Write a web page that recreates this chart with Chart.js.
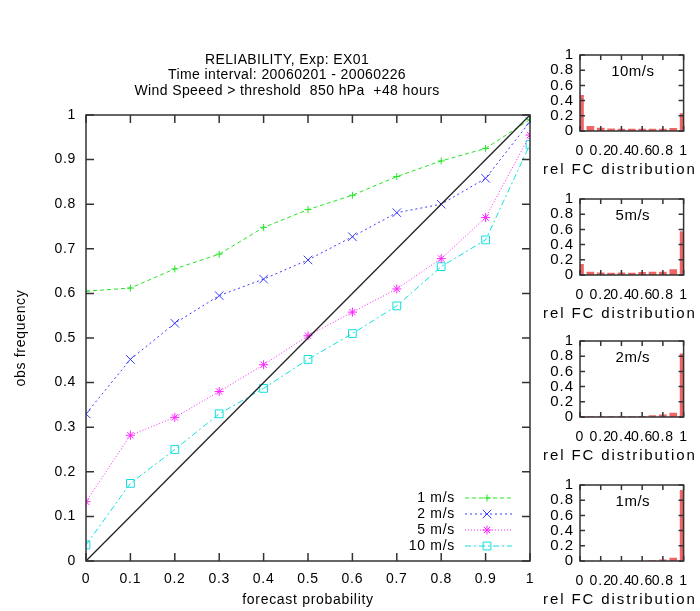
<!DOCTYPE html>
<html>
<head>
<meta charset="utf-8">
<title>Reliability</title>
<script src="https://cdn.jsdelivr.net/npm/chart.js@4.4.0/dist/chart.umd.min.js"></script>
<style>
    body { margin: 0; background: #fff; width: 700px; height: 611px; position: relative; overflow: hidden; }
    canvas { position: absolute; }
</style>
</head>
<body>

<canvas id="mainChart" width="560" height="611" style="left:0;top:0"></canvas>
<canvas id="hist10" width="160" height="140" style="left:540px;top:40px"></canvas>
<canvas id="hist5" width="160" height="140" style="left:540px;top:184px"></canvas>
<canvas id="hist2" width="160" height="140" style="left:540px;top:326px"></canvas>
<canvas id="hist1" width="160" height="140" style="left:540px;top:470px"></canvas>

<script>
// forecast probability bins
const probs = [0, 0.1, 0.2, 0.3, 0.4, 0.5, 0.6, 0.7, 0.8, 0.9, 1];

// observed frequency per threshold
const obs1  = [0.605, 0.612, 0.655, 0.688, 0.748, 0.788, 0.820, 0.862, 0.897, 0.925, 0.990];
const obs2  = [0.330, 0.452, 0.533, 0.595, 0.632, 0.675, 0.727, 0.781, 0.800, 0.858, 0.985];
const obs5  = [0.133, 0.282, 0.322, 0.380, 0.440, 0.505, 0.558, 0.610, 0.678, 0.770, 0.955];
const obs10 = [0.036, 0.174, 0.250, 0.330, 0.387, 0.452, 0.510, 0.572, 0.660, 0.720, 0.934];

// perfect reliability line
const diagX = [0, 1];
const diagY = [0, 1];

// relative forecast distribution per threshold
const rel10 = [0.47, 0.06, 0.04, 0.03, 0.025, 0.025, 0.025, 0.025, 0.025, 0.035, 0.23];
const rel5  = [0.14, 0.04, 0.03, 0.025, 0.03, 0.025, 0.035, 0.04, 0.04, 0.07, 0.57];
const rel2  = [0.01, 0.005, 0.005, 0.005, 0.005, 0.005, 0.01, 0.02, 0.03, 0.05, 0.83];
const rel1  = [0, 0, 0, 0, 0, 0, 0, 0.005, 0.015, 0.04, 0.93];

const seriesLabels = ["1 m/s", "2 m/s", "5 m/s", "10 m/s"];
const histLabels = ["10m/s", "5m/s", "2m/s", "1m/s"];

const mainTicks = [0, 0.1, 0.2, 0.3, 0.4, 0.5, 0.6, 0.7, 0.8, 0.9, 1];
const histTicks = [0, 0.2, 0.4, 0.6, 0.8, 1];

const titleLines = [
    "RELIABILITY, Exp: EX01",
    "Time interval: 20060201 - 20060226",
    "Wind Speeed > threshold  850 hPa  +48 hours"
];

const FONT = '"Liberation Sans", Arial, sans-serif';

Chart.defaults.font.family = FONT;
Chart.defaults.font.size = 14;
Chart.defaults.color = "#000";


// letter spacing, gnuplot text is wide
const spacingPlugin = {
    id: "spacing",
    beforeUpdate(chart, args, opts) {
        chart.ctx.letterSpacing = opts.px + "px";
    },
    beforeDraw(chart, args, opts) {
        chart.ctx.letterSpacing = opts.px + "px";
    }
};

// box round the plot with inward ticks on all sides
const framePlugin = {
    id: "frame",
    afterDraw(chart, args, opts) {

        const { ctx, chartArea: a, scales: { x, y } } = chart;
        const L = opts.tick;

        ctx.save();
        ctx.strokeStyle = "#333";
        ctx.lineWidth = 1.5;
        ctx.setLineDash([]);
        ctx.strokeRect(a.left, a.top, a.width, a.height);

        ctx.beginPath();
        x.ticks.forEach(t => {
            const px = x.getPixelForValue(t.value);
            ctx.moveTo(px, a.bottom);
            ctx.lineTo(px, a.bottom - L);
            ctx.moveTo(px, a.top);
            ctx.lineTo(px, a.top + L);
        });
        y.ticks.forEach(t => {
            const py = y.getPixelForValue(t.value);
            ctx.moveTo(a.left, py);
            ctx.lineTo(a.left + L, py);
            ctx.moveTo(a.right, py);
            ctx.lineTo(a.right - L, py);
        });
        ctx.stroke();
        ctx.restore();
    }
};

// three line title above the main plot
const headPlugin = {
    id: "head",
    afterDraw(chart, args, opts) {

        const ctx = chart.ctx;

        ctx.save();
        ctx.letterSpacing = "0.4px";
        ctx.font = "14px " + FONT;
        ctx.fillStyle = "#000";
        ctx.textAlign = "center";
        ctx.textBaseline = "middle";

        opts.lines.forEach((line, i) => {
            ctx.fillText(line, opts.x, opts.y + i * 15.5);
        });

        ctx.restore();
    }
};

// key in the lower right corner of the main plot
const keyPlugin = {
    id: "key",
    afterDatasetsDraw(chart) {

        const { ctx, chartArea: a } = chart;

        ctx.save();
        ctx.font = "14px " + FONT;
        ctx.textAlign = "right";
        ctx.textBaseline = "middle";

        chart.data.datasets.slice(1).forEach((ds, i) => {

            const ty = a.bottom - 63 + i * 16;
            const tx = a.right - 75;

            ctx.fillStyle = "#000";
            ctx.fillText(ds.label, tx, ty);

            ctx.strokeStyle = ds.borderColor;
            ctx.lineWidth = 1;
            ctx.setLineDash(ds.borderDash);
            ctx.beginPath();
            ctx.moveTo(tx + 10, ty);
            ctx.lineTo(tx + 57, ty);
            ctx.stroke();
            ctx.setLineDash([]);

            ctx.fillStyle = "rgba(0,0,0,0)";
            Chart.helpers.drawPoint(
                ctx,
                { pointStyle: ds.pointStyle, radius: ds.pointRadius, borderWidth: 1, rotation: 0 },
                tx + 32,
                ty
            );
        });

        ctx.restore();
    }
};

// label inside and axis title under each small histogram
const histTextPlugin = {
    id: "histText",
    afterDraw(chart, args, opts) {

        const { ctx, chartArea: a } = chart;

        ctx.save();
        ctx.font = "15px " + FONT;
        ctx.fillStyle = "#000";
        ctx.textBaseline = "middle";

        ctx.letterSpacing = "0.5px";
        ctx.textAlign = "center";
        ctx.fillText(opts.label, (a.left + a.right) / 2 + 1, a.top + 17);

        ctx.letterSpacing = "1.9px";
        ctx.textAlign = "left";
        ctx.fillText("rel FC distribution", a.left - 37, a.bottom + 39);

        ctx.restore();
    }
};


function tickText(value) {
    return String(Math.round(value * 10) / 10);
}

function toPoints(xs, ys) {
    return xs.map((x, i) => ({ x: x, y: ys[i] }));
}

function lineSet(label, ys, color, dash, style, radius) {
    return {
        label: label,
        data: toPoints(probs, ys),
        borderColor: color,
        borderWidth: 1,
        borderDash: dash,
        backgroundColor: "rgba(0,0,0,0)",
        pointStyle: style,
        pointRadius: radius,
        pointBorderColor: color,
        pointBackgroundColor: "rgba(0,0,0,0)",
        pointBorderWidth: 1,
        tension: 0,
        fill: false
    };
}

function loadMainChart() {

    new Chart(
        document.getElementById("mainChart"),
        {
            type: "line",

            data: {
                datasets: [
                    {
                        label: "diagonal",
                        data: toPoints(diagX, diagY),
                        borderColor: "#222",
                        borderWidth: 1.3,
                        pointRadius: 0,
                        fill: false
                    },
                    lineSet(seriesLabels[0], obs1, "#22e622", [4, 3], "cross", 3.5),
                    lineSet(seriesLabels[1], obs2, "#3a3aff", [2, 3], "crossRot", 6),
                    lineSet(seriesLabels[2], obs5, "#ff22ff", [1, 2], "star", 4.5),
                    lineSet(seriesLabels[3], obs10, "#11e0e0", [6, 3, 2, 3], "rect", 5.5)
                ]
            },

            options: {
                responsive: false,
                animation: false,
                events: [],

                layout: {
                    padding: { top: 115, right: 30, bottom: 0, left: 0 }
                },

                plugins: {
                    legend: { display: false },
                    tooltip: { enabled: false },
                    spacing: { px: 0.7 },
                    frame: { tick: 8 },
                    head: { lines: titleLines, x: 287, y: 60 }
                },

                scales: {
                    x: {
                        type: "linear",
                        min: 0,
                        max: 1,
                        afterBuildTicks: s => { s.ticks = mainTicks.map(v => ({ value: v })); },
                        afterFit: s => { s.height = 50; },
                        grid: { display: false, drawTicks: false },
                        border: { display: false },
                        ticks: { padding: 10, maxRotation: 0, autoSkip: false, callback: tickText },
                        title: {
                            display: true,
                            text: "forecast probability",
                            padding: { top: 0, bottom: 2 }
                        }
                    },
                    y: {
                        type: "linear",
                        min: 0,
                        max: 1,
                        afterBuildTicks: s => { s.ticks = mainTicks.map(v => ({ value: v })); },
                        afterFit: s => { s.width = 86; },
                        grid: { display: false, drawTicks: false },
                        border: { display: false },
                        ticks: { padding: 10, autoSkip: false, callback: tickText },
                        title: {
                            display: true,
                            text: "obs frequency",
                            padding: { top: 13, bottom: 0 }
                        }
                    }
                }
            },

            plugins: [spacingPlugin, framePlugin, headPlugin, keyPlugin]
        }
    );
}

function loadHistogram(id, values, label) {

    new Chart(
        document.getElementById(id),
        {
            type: "bar",

            data: {
                datasets: [{
                    data: toPoints(probs, values),
                    backgroundColor: "#f06464",
                    barThickness: 7,
                    clip: 0
                }]
            },

            options: {
                responsive: false,
                animation: false,
                events: [],

                layout: {
                    padding: { top: 14, right: 10, bottom: 0, left: 0 }
                },

                plugins: {
                    legend: { display: false },
                    tooltip: { enabled: false },
                    spacing: { px: 1 },
                    frame: { tick: 5 },
                    histText: { label: label }
                },

                scales: {
                    x: {
                        type: "linear",
                        min: 0,
                        max: 1,
                        offset: false,
                        afterBuildTicks: s => { s.ticks = histTicks.map(v => ({ value: v })); },
                        afterFit: s => { s.height = 49; },
                        grid: { display: false, drawTicks: false },
                        border: { display: false },
                        ticks: { padding: 12, maxRotation: 0, autoSkip: false, callback: tickText }
                    },
                    y: {
                        type: "linear",
                        min: 0,
                        max: 1,
                        afterBuildTicks: s => { s.ticks = histTicks.map(v => ({ value: v })); },
                        afterFit: s => { s.width = 40; },
                        grid: { display: false, drawTicks: false },
                        border: { display: false },
                        ticks: { padding: 6, autoSkip: false, callback: tickText, font: { size: 15 } }
                    }
                }
            },

            plugins: [spacingPlugin, framePlugin, histTextPlugin]
        }
    );
}

loadMainChart();
loadHistogram("hist10", rel10, histLabels[0]);
loadHistogram("hist5", rel5, histLabels[1]);
loadHistogram("hist2", rel2, histLabels[2]);
loadHistogram("hist1", rel1, histLabels[3]);
</script>
</body>
</html>
